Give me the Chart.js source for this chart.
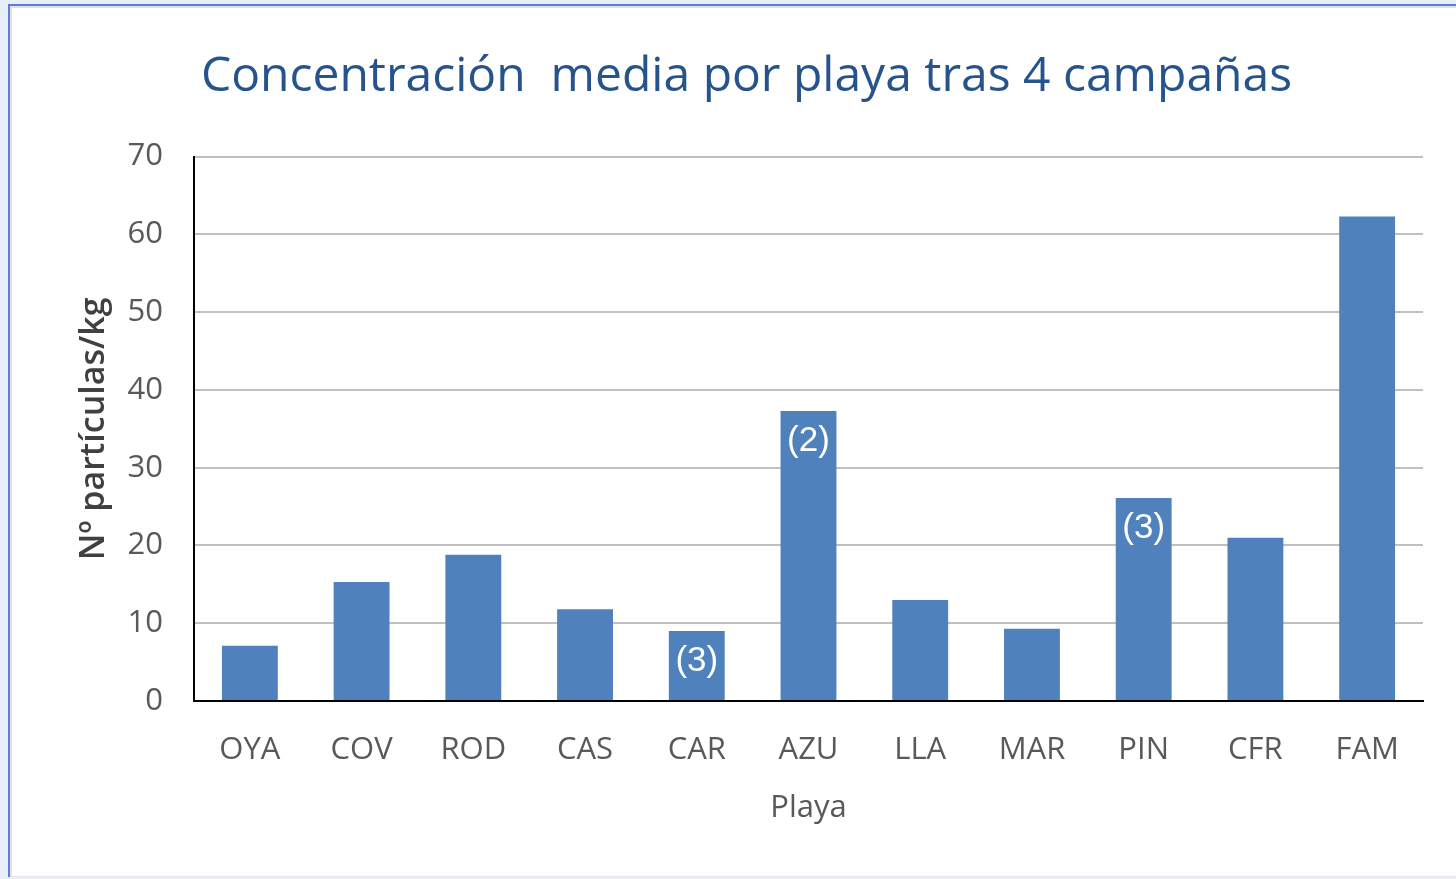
<!DOCTYPE html>
<html>
<head>
<meta charset="utf-8">
<script src="https://cdn.jsdelivr.net/npm/chart.js@4.4.0/dist/chart.umd.min.js"></script>
<style>
  html, body { margin: 0; padding: 0; width: 1456px; height: 879px; overflow: hidden; background: #e9eff9; }
  .frame { position: absolute; left: 8px; top: 4px; width: 1460px; height: 873px; border-left: 2px solid #5b7ddc; border-top: 2px solid #5b7ddc; box-sizing: border-box; background: #fff; }
  .inner { position: absolute; left: 0; top: 0; right: 0; bottom: 0; border-left: 2px solid #e2e2e2; border-top: 2px solid #e2e2e2; border-bottom: 1px solid #e6e6e6; }
  #chartWrap { position: absolute; left: 0; top: 0; width: 1456px; height: 879px; }
</style>
</head>
<body>
<div class="frame"><div class="inner"></div></div>
<div id="chartWrap"><canvas id="playaChart" width="1456" height="879"></canvas></div>
<script>
// Beach codes and mean concentration (particles/kg) after 4 campaigns
const playas = ['OYA', 'COV', 'ROD', 'CAS', 'CAR', 'AZU', 'LLA', 'MAR', 'PIN', 'CFR', 'FAM'];
const concentracion = [7.1, 15.3, 18.8, 11.8, 9.0, 37.3, 13.0, 9.3, 26.1, 21.0, 62.3];
// number of campaigns noted inside some bars
const notas = ['', '', '', '', '(3)', '(2)', '', '', '(3)', '', ''];
const yTicks = [0, 10, 20, 30, 40, 50, 60, 70];

const barColor = '#4f81bd';
const tickColor = '#595959';

// draws the "(n)" notes near the top of each bar
const notasPlugin = {
    id: 'notas',
    afterDatasetsDraw(chart) {
        const c = chart.ctx;
        const meta = chart.getDatasetMeta(0);
        c.save();
        c.fillStyle = '#ffffff';
        c.font = '35px "Liberation Sans", Arial, sans-serif';
        c.textAlign = 'center';
        c.textBaseline = 'middle';
        meta.data.forEach((bar, i) => {
            if (!notas[i]) return;
            c.fillText(notas[i], bar.x, bar.y + 30);
        });
        c.restore();
    }
};

const ctx = document.getElementById('playaChart');

new Chart(ctx, {
    type: 'bar',
    data: {
        labels: playas,
        datasets: [{
            data: concentracion,
            backgroundColor: barColor,
            borderWidth: 0,
            categoryPercentage: 0.5,
            barPercentage: 1
        }]
    },
    options: {
        responsive: false,
        animation: false,
        layout: { padding: { left: 70, right: 33, top: 0, bottom: 48 } },
        plugins: {
            legend: { display: false },
            tooltip: { enabled: false },
            title: {
                display: true,
                text: 'Concentración  media por playa tras 4 campañas',
                color: '#27538c',
                font: { family: 'Open Sans', size: 48, weight: 'normal' },
                padding: { top: 49, bottom: 50 }
            }
        },
        scales: {
            x: {
                grid: { display: false, drawTicks: false },
                border: { display: true, color: '#000000', width: 2 },
                ticks: {
                    color: tickColor,
                    font: { family: 'Open Sans', size: 31 },
                    padding: 31,
                    maxRotation: 0
                },
                title: {
                    display: true,
                    text: 'Playa',
                    color: tickColor,
                    font: { family: 'Open Sans', size: 31 }
                },
                afterFit(scale) { scale.height = 130; }
            },
            y: {
                min: 0,
                max: 70,
                afterBuildTicks(scale) { scale.ticks = yTicks.map(v => ({ value: v })); },
                grid: { color: '#c0c0c0', lineWidth: 2, drawTicks: false },
                border: { display: true, color: '#000000', width: 2 },
                ticks: {
                    color: tickColor,
                    font: { family: 'Open Sans', size: 31 },
                    padding: 31
                },
                title: {
                    display: true,
                    text: 'Nº partículas/kg',
                    color: '#404040',
                    font: { family: 'Open Sans', size: 34, weight: '600' }
                },
                afterFit(scale) { scale.width = 124; }
            }
        }
    },
    plugins: [notasPlugin]
});
</script>
</body>
</html>
